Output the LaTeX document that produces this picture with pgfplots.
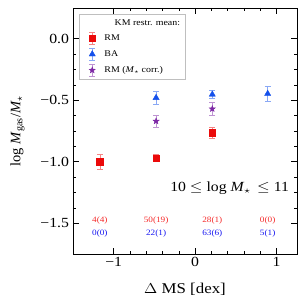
\documentclass[border=0pt]{standalone}
\usepackage{fontspec}
\setmainfont{Liberation Serif}
\usepackage{pgfplots}
\pgfplotsset{compat=1.18}
\definecolor{cred}{RGB}{235,10,10}
\definecolor{cblue}{RGB}{20,80,235}
\definecolor{cpurp}{RGB}{125,40,165}
\definecolor{tred}{RGB}{245,40,40}
\definecolor{tblue}{RGB}{20,20,240}
\pgfdeclareplotmark{fstar}{%
  \pgfpathmoveto{\pgfpointpolar{90}{\pgfplotmarksize}}%
  \pgfpathlineto{\pgfpointpolar{126}{0.42\pgfplotmarksize}}%
  \pgfpathlineto{\pgfpointpolar{162}{\pgfplotmarksize}}%
  \pgfpathlineto{\pgfpointpolar{198}{0.42\pgfplotmarksize}}%
  \pgfpathlineto{\pgfpointpolar{234}{\pgfplotmarksize}}%
  \pgfpathlineto{\pgfpointpolar{270}{0.42\pgfplotmarksize}}%
  \pgfpathlineto{\pgfpointpolar{306}{\pgfplotmarksize}}%
  \pgfpathlineto{\pgfpointpolar{342}{0.42\pgfplotmarksize}}%
  \pgfpathlineto{\pgfpointpolar{18}{\pgfplotmarksize}}%
  \pgfpathlineto{\pgfpointpolar{54}{0.42\pgfplotmarksize}}%
  \pgfpathclose\pgfusepathqfillstroke}
\newcommand{\ebimg}[2]{% #1 colour, #2 mark options
  \draw[#1!50, line width=0.6pt] (10bp,-6bp) -- (10bp,6bp)
     (7bp,-6bp) -- (13bp,-6bp)
     (7bp,6bp) -- (13bp,6bp);
  \path[draw=none, fill=none] (0bp,0bp) rectangle (20bp,0.1bp);
  \path[color=#1, fill=#1] plot[only marks, #2] coordinates {(10bp,0bp)};}
\begin{document}
\begin{tikzpicture}
\useasboundingbox (-73bp,-54bp) rectangle (235bp,254bp);
\begin{axis}[
  at={(0,0)}, anchor=south west,
  scale only axis, width=224bp, height=246bp,
  xmin=-1.5, xmax=1.25, ymin=-1.75, ymax=0.25,
  xtick={-1,0,1}, xticklabels={−1,0,1},
  ytick={-1.5,-1,-0.5,0}, yticklabels={−1.5,−1.0,−0.5,0.0},
  minor x tick num=4, minor y tick num=3,
  tick align=inside, tick pos=both,
  major tick length=6bp, minor tick length=3bp,
  tick style={black, line width=0.6pt},
  axis line style={line width=0.7pt},
  ticklabel style={font=\fontsize{14}{14}\selectfont, xscale=1.13},
  xlabel={$\Delta$ MS [dex]},
  ylabel={log \textit{M}\textsubscript{gas}/\textit{M}\textsubscript{$\star$}},
  ylabel style={font=\fontsize{14.5}{14}\selectfont, at={(axis description cs:-0.2,0.5)}, anchor=south},
  xlabel style={font=\fontsize{15}{14}\selectfont, xscale=1.13, at={(axis description cs:0.5,-0.105)}, anchor=north},
  clip=false,
  legend style={at={(axis description cs:0.027,0.975)}, anchor=north west,
    font=\fontsize{8.8}{10}\selectfont, draw=black!25, fill=white,
    row sep=3.4pt, inner xsep=3pt, inner ysep=3pt,
    nodes={xscale=1.13}},
  legend cell align=left,
]
\addlegendimage{empty legend}
\addlegendentry{\hspace{9pt}KM restr. mean:}

\addplot[only marks, mark=square*, mark size=3.2pt, color=cred,
  legend image code/.code={\ebimg{cred}{mark=square*, mark size=3.2pt}},
  error bars/.cd, y dir=both, y explicit,
  error bar style={cred!50, line width=0.6pt},
  error mark options={rotate=90, mark size=3pt, cred!50, line width=0.6pt}]
  coordinates {(-1.17,-1.0) +- (0,0.058) (-0.48,-0.97) +- (0,0.03) (0.21,-0.764) +- (0,0.043)};
\addlegendentry{RM}

\addplot[only marks, mark=triangle*, mark size=3.6pt, color=cblue,
  legend image code/.code={\ebimg{cblue}{mark=triangle*, mark size=3.6pt}},
  error bars/.cd, y dir=both, y explicit,
  error bar style={cblue!50, line width=0.6pt},
  error mark options={rotate=90, mark size=3pt, cblue!50, line width=0.6pt}]
  coordinates {(-0.48,-0.48) +- (0,0.054) (0.21,-0.453) +- (0,0.035) (0.89,-0.447) +- (0,0.06)};
\addlegendentry{BA}

\addplot[only marks, mark=fstar, mark size=3.2pt, color=cpurp,
  legend image code/.code={\ebimg{cpurp}{mark=fstar, mark size=3.2pt}},
  error bars/.cd, y dir=both, y explicit,
  error bar style={cpurp!50, line width=0.6pt},
  error mark options={rotate=90, mark size=3pt, cpurp!50, line width=0.6pt}]
  coordinates {(-0.48,-0.67) +- (0,0.047) (0.21,-0.57) +- (0,0.054)};
\addlegendentry{RM (\textit{M}\textsubscript{$\star$} corr.)}

\node[anchor=east, font=\fontsize{14}{14}\selectfont, xscale=1.13] at (axis cs:1.2,-1.215) {10 $\leq$ log \textit{M}\textsubscript{$\star$}\, $\leq$ 11};

\node[tred, font=\fontsize{8.2}{9}\selectfont, xscale=1.13] at (axis cs:-1.17,-1.48) {4(4)};
\node[tred, font=\fontsize{8.2}{9}\selectfont, xscale=1.13] at (axis cs:-0.48,-1.48) {50(19)};
\node[tred, font=\fontsize{8.2}{9}\selectfont, xscale=1.13] at (axis cs:0.21,-1.48) {28(1)};
\node[tred, font=\fontsize{8.2}{9}\selectfont, xscale=1.13] at (axis cs:0.89,-1.48) {0(0)};
\node[tblue, font=\fontsize{8.2}{9}\selectfont, xscale=1.13] at (axis cs:-1.17,-1.58) {0(0)};
\node[tblue, font=\fontsize{8.2}{9}\selectfont, xscale=1.13] at (axis cs:-0.48,-1.58) {22(1)};
\node[tblue, font=\fontsize{8.2}{9}\selectfont, xscale=1.13] at (axis cs:0.21,-1.58) {63(6)};
\node[tblue, font=\fontsize{8.2}{9}\selectfont, xscale=1.13] at (axis cs:0.89,-1.58) {5(1)};
\end{axis}
\end{tikzpicture}
\end{document}
